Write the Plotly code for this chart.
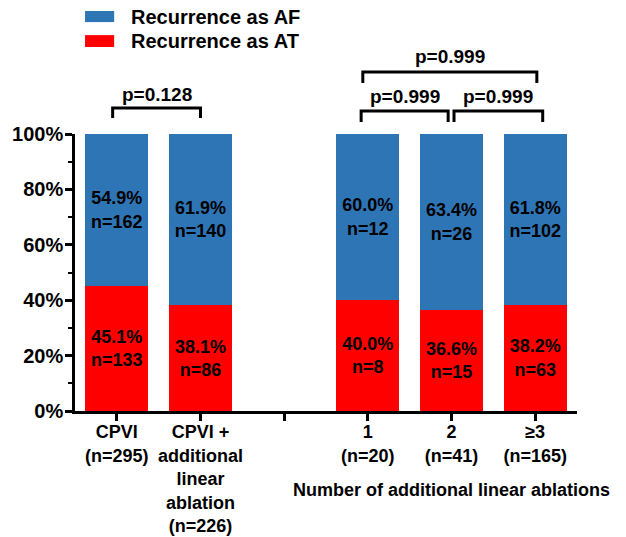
import plotly.graph_objects as go

# ---- data ----
x_pos = [0, 1, 3, 4, 5]
tick_vals = [0, 1, 2, 3, 4, 5]
tick_text = ["CPVI<br>(n=295)", "CPVI +<br>additional<br>linear<br>ablation<br>(n=226)", "",
             "1<br>(n=20)", "2<br>(n=41)", "≥3<br>(n=165)"]
af_pct = [54.9, 61.9, 60.0, 63.4, 61.8]
af_n = [162, 140, 12, 26, 102]
at_pct = [45.1, 38.1, 40.0, 36.6, 38.2]
at_n = [133, 86, 8, 15, 63]
series_names = ["Recurrence as AF", "Recurrence as AT"]
# brackets: (start category, end category, label)
brackets = [(0, 1, "p=0.128"), (3, 4, "p=0.999"), (4, 5, "p=0.999"), (3, 5, "p=0.999")]
group_label = "Number of additional linear ablations"

# ---- style ----
BLUE = "#2E75B6"
RED = "#FF0000"
FONT = "Liberation Sans"
bold = dict(family=FONT, color="black", weight="bold")

fig = go.Figure()
fig.add_trace(go.Bar(
    x=x_pos, y=at_pct, name=series_names[1], marker=dict(color=RED, line=dict(width=0)),
    width=0.755,
    text=[f"{p:.1f}%<br>n={n}" for p, n in zip(at_pct, at_n)],
    textposition="inside", insidetextanchor="middle", textangle=0,
    textfont=dict(size=18, **bold), showlegend=False, hoverinfo="skip"))
fig.add_trace(go.Bar(
    x=x_pos, y=af_pct, name=series_names[0], marker=dict(color=BLUE, line=dict(width=0)),
    width=0.755,
    text=[f"{p:.1f}%<br>n={n}" for p, n in zip(af_pct, af_n)],
    textposition="inside", insidetextanchor="middle", textangle=0,
    textfont=dict(size=18, **bold), showlegend=False, hoverinfo="skip"))

# bracket geometry (offsets in category units, heights as fraction of the 0-100% axis)
bracket_geo = {
    (0, 1): (-0.05, 0.0, 1.058, 1.094, 1.141),
    (3, 4): (-0.08, -0.04, 1.043, 1.083, 1.134),
    (4, 5): (0.03, 0.09, 1.043, 1.083, 1.134),
    (3, 5): (-0.06, 0.02, 1.184, 1.224, 1.278),
}
for a, b, lab in brackets:
    o0, o1, ylo, yhi, ytxt = bracket_geo[(a, b)]
    x0, x1 = a + o0, b + o1
    fig.add_shape(type="path", xref="x", yref="paper",
                  path=f"M{x0},{ylo} L{x0},{yhi} L{x1},{yhi} L{x1},{ylo}",
                  line=dict(color="black", width=3))
    fig.add_annotation(x=(x0 + x1) / 2, y=ytxt, xref="x", yref="paper", text=lab,
                       showarrow=False, font=dict(size=19, **bold),
                       xanchor="center", yanchor="middle")

fig.add_annotation(x=4.0, y=-0.285, xref="x", yref="paper", text=group_label,
                   showarrow=False, font=dict(size=18, **bold),
                   xanchor="center", yanchor="middle")

# custom legend
legend_rows = [(series_names[0], BLUE, 1.404, 1.444, 1.424),
               (series_names[1], RED, 1.314, 1.357, 1.336)]
for name, col, y0, y1, yt in legend_rows:
    fig.add_shape(type="rect", xref="paper", yref="paper", x0=0.02, x1=0.078,
                  y0=y0, y1=y1, fillcolor=col, line=dict(width=0))
    fig.add_annotation(x=0.108, y=yt, xref="paper", yref="paper", text=name,
                       showarrow=False, font=dict(size=20, **bold),
                       xanchor="left", yanchor="middle")

fig.update_layout(
    width=626, height=537, barmode="stack",
    margin=dict(l=67, r=57, t=126, b=134),
    plot_bgcolor="white", paper_bgcolor="white",
    uniformtext=dict(minsize=18, mode="show"),
    showlegend=False,
)
fig.update_xaxes(
    range=[-0.5, 5.5], tickmode="array", tickvals=tick_vals, ticktext=tick_text,
    showline=True, linecolor="black", linewidth=2.5, ticks="outside",
    ticklen=7, tickwidth=2.5, tickcolor="black", showgrid=False, zeroline=False,
    automargin=False, tickfont=dict(size=18, **bold), ticklabelstandoff=-4)
fig.update_yaxes(
    range=[0, 100], dtick=20, ticksuffix="%", showline=True, linecolor="black",
    linewidth=2.5, ticks="outside", ticklen=7, tickwidth=2.5, tickcolor="black",
    showgrid=False, zeroline=False, automargin=False, tickfont=dict(size=20, **bold),
    ticklabelstandoff=-2,
    minor=dict(dtick=10, ticks="outside", ticklen=4, tickwidth=2, tickcolor="black"))

fig.write_html("out.html")
